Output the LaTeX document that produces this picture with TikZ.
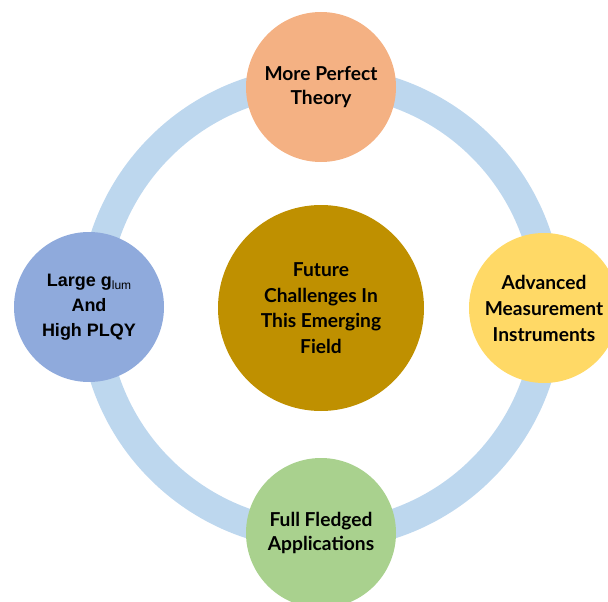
\documentclass[tikz,border=0pt]{standalone}
\usepackage{fontspec}
\setmainfont{Lato}
\newfontfamily\armfont{Liberation Sans}
\definecolor{ringblue}{HTML}{BDD7EE}
\definecolor{peach}{HTML}{F4B183}
\definecolor{softblue}{HTML}{8FAADC}
\definecolor{sunyellow}{HTML}{FFD966}
\definecolor{leafgreen}{HTML}{A9D18E}
\definecolor{gold}{HTML}{BF9000}
\begin{document}
\begin{tikzpicture}[x=1pt,y=-1pt,
  ring/.style={draw=ringblue,line width=29pt},
  topic/.style={circle,minimum size=150pt,inner sep=0pt,align=center,
    font=\bfseries\fontsize{19.2}{24}\selectfont,text=black},
  hubnode/.style={circle,minimum size=206pt,inner sep=0pt,align=center,fill=gold,
    font=\bfseries\fontsize{19.2}{25.5}\selectfont,text=black}]
  \useasboundingbox (0,0) rectangle (608,602);
  % ring behind everything
  \coordinate (mid) at (321,308);
  \draw[ring] (mid) circle[radius=227.5pt];
  % central topic
  \node[hubnode] (hub) at (mid) {Future\\Challenges In\\This Emerging\\Field};
  % four surrounding topics
  \node[topic,fill=peach] (theory) at (321,87) {More Perfect\\Theory};
  \node[topic,fill=softblue,font=\armfont\bfseries\fontsize{18}{25}\selectfont] (glum) at (89,307)
    {Large g\raisebox{-0.35ex}{\mdseries\fontsize{12}{12}\selectfont lum}\\And\\High PLQY};
  \node[topic,fill=sunyellow,font=\bfseries\fontsize{19.2}{26}\selectfont] (instr) at (544,308)
    {Advanced\\Measurement\\Instruments};
  \node[topic,fill=leafgreen] (apps) at (321,533) {Full Fledged\\Applications};
\end{tikzpicture}
\end{document}
